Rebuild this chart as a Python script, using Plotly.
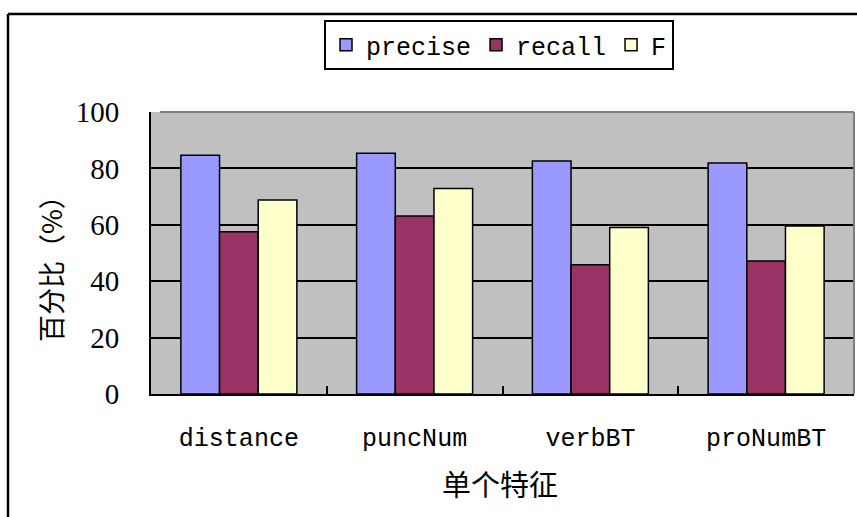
import plotly.graph_objects as go

categories = ["distance", "puncNum", "verbBT", "proNumBT"]
precise = [84.7, 85.4, 82.6, 81.9]
recall = [57.5, 63.1, 45.8, 47.2]
f_score = [68.8, 72.9, 59.0, 59.6]
series_names = ["precise", "recall", "F"]
colors = ["#9999FF", "#993366", "#FFFFCC"]
y_ticks = [0, 20, 40, 60, 80, 100]

W, H = 857, 517
L, R, T, B = 151, 3, 112, 123
pw, ph = W - L - R, H - T - B


def px(x):
    return (x - L) / pw


def py(y):
    return (H - B - y) / ph


fig = go.Figure()
for name, vals, col in zip(series_names, [precise, recall, f_score], colors):
    fig.add_trace(go.Bar(
        x=categories, y=vals, name=name,
        marker=dict(color=col, line=dict(color="black", width=1.5)),
    ))

mono = "Liberation Mono"
cjk = "Noto Sans CJK SC"

fig.update_layout(
    width=W, height=H,
    margin=dict(l=L, r=R, t=T, b=B, pad=0),
    paper_bgcolor="white",
    plot_bgcolor="#C0C0C0",
    barmode="group", bargap=0.34, bargroupgap=0,
    showlegend=True,
    legend=dict(
        orientation="h",
        x=px(324), y=py(20), xanchor="left", yanchor="top",
        bordercolor="black", borderwidth=2, bgcolor="white",
        font=dict(family=mono, size=25, color="black"),
        traceorder="normal",
    ),
    xaxis=dict(
        showline=True, linecolor="black", linewidth=2,
        ticks="inside", ticklen=8, tickwidth=1.5, tickcolor="black",
        tickson="boundaries",
        tickfont=dict(family=mono, size=25, color="black"),
        ticklabelstandoff=20,
        showgrid=False,
    ),
    yaxis=dict(
        range=[0, 100], tickvals=y_ticks,
        showline=True, linecolor="black", linewidth=2,
        ticks="inside", ticklen=9, tickwidth=1.5, tickcolor="black",
        tickfont=dict(family="Liberation Serif", size=29, color="black"),
        ticklabelstandoff=24,
        showgrid=True, gridcolor="black", gridwidth=1.5,
        zeroline=False,
    ),
    annotations=[
        dict(text="百分比（%）", xref="paper", yref="paper",
             x=px(50), y=py(262), xanchor="center", yanchor="middle",
             textangle=-90, showarrow=False,
             font=dict(family=cjk, size=27, color="black")),
        dict(text="单个特征", xref="paper", yref="paper",
             x=px(500), y=py(483), xanchor="center", yanchor="middle",
             showarrow=False,
             font=dict(family=cjk, size=29, color="black")),
    ],
    shapes=[
        # plot-area top and right borders (gray)
        dict(type="line", xref="paper", yref="paper", x0=px(160), x1=1, y0=1, y1=1,
             line=dict(color="#808080", width=2), layer="above"),
        dict(type="line", xref="paper", yref="paper", x0=1, x1=1, y0=0, y1=1,
             line=dict(color="#808080", width=2), layer="above"),
        # outer chart frame
        dict(type="line", xref="paper", yref="paper", x0=px(8), x1=px(870), y0=py(14), y1=py(14),
             line=dict(color="black", width=2.5)),
        dict(type="line", xref="paper", yref="paper", x0=px(8), x1=px(8), y0=py(14), y1=py(530),
             line=dict(color="black", width=2.5)),
    ],
)

fig.write_html("out.html", config={"displayModeBar": False},
               post_script="document.body.style.margin='0';")
